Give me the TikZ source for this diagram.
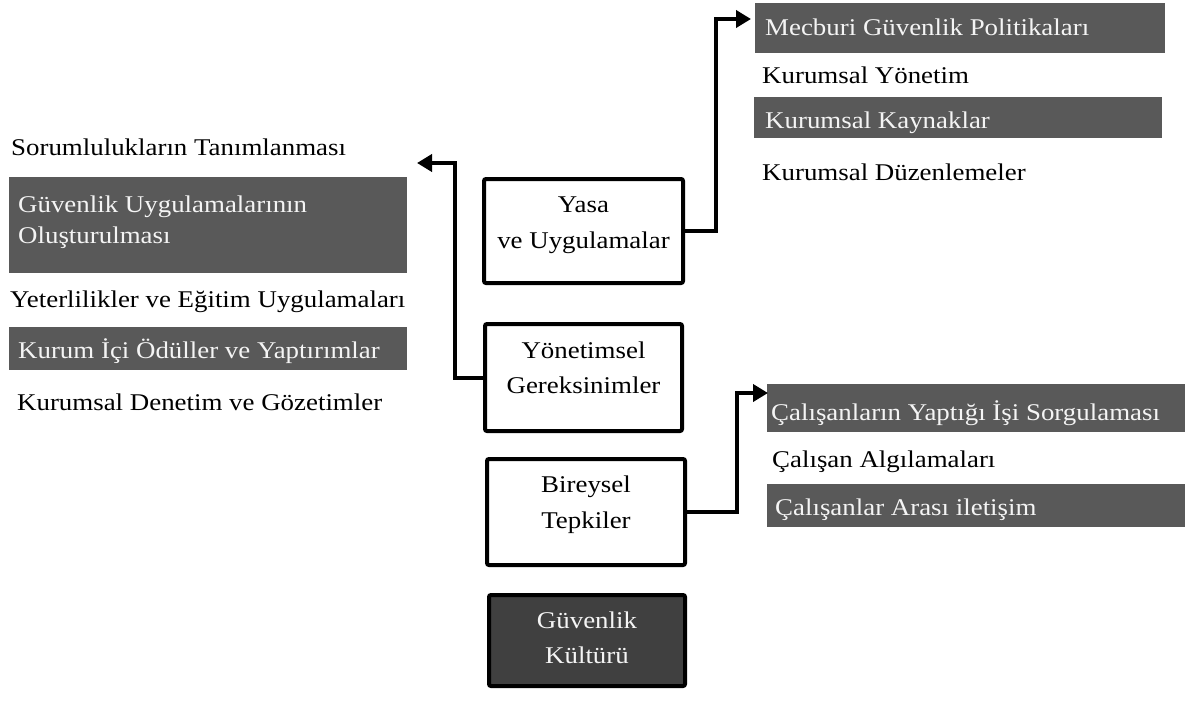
\documentclass[tikz,border=0pt]{standalone}
\usepackage{fontspec}
\setmainfont{Liberation Serif}[FakeStretch=1.12]
\usetikzlibrary{arrows.meta}
\definecolor{bargray}{HTML}{595959}
\definecolor{darkfill}{HTML}{404040}
\definecolor{lighttext}{HTML}{F4F4F4}
% two centred / left-aligned lines whose baseline is that of the first line
\newcommand{\pairc}[3]{{\fontsize{24}{#3}\selectfont\begin{tabular}[t]{@{}c@{}}#1\\#2\end{tabular}}}
\newcommand{\pairl}[3]{{\fontsize{24}{#3}\selectfont\begin{tabular}[t]{@{}l@{}}#1\\#2\end{tabular}}}
\tikzset{
  frame/.style={draw=black, line width=4pt, rounded corners=2pt, fill=white, inner sep=0pt},
  darkframe/.style={frame, fill=darkfill},
  listbar/.style={fill=bargray, draw=none, inner sep=0pt, anchor=north west},
  itemtext/.style={font=\fontsize{24}{29}\selectfont, inner sep=0pt, anchor=base west},
  bartext/.style={itemtext, text=lighttext},
  boxtext/.style={inner sep=0pt, anchor=base},
  conn/.style={line width=4pt, -{Triangle[length=15pt,width=17pt]}}
}
\begin{document}
\begin{tikzpicture}[x=1pt, y=-1pt]
\useasboundingbox (0,0) rectangle (1193,704);

% central column of boxes
\node[frame, minimum width=199pt, minimum height=104pt] (yasa) at (583.5,231) {};
\node[boxtext] (yasaT) at (583.5,212) {\pairc{Yasa}{ve Uygulamalar}{36}};

\node[frame, minimum width=197pt, minimum height=107pt] (yon) at (583.5,377.5) {};
\node[boxtext] (yonT) at (583.5,358) {\pairc{Yönetimsel}{Gereksinimler}{35}};

\node[frame, minimum width=198pt, minimum height=106pt] (bir) at (586,512) {};
\node[boxtext] (birT) at (586,492) {\pairc{Bireysel}{Tepkiler}{36}};

\node[darkframe, minimum width=196pt, minimum height=91pt] (kult) at (587,640.5) {};
\node[boxtext, text=lighttext] (kultT) at (587,628) {\pairc{Güvenlik}{Kültürü}{35}};

% upper right list
\node[listbar, minimum width=410pt, minimum height=50pt] (mecb) at (755,3) {};
\node[bartext] (mecbT) at (765,35) {Mecburi Güvenlik Politikaları};
\node[itemtext] (yonetim) at (762,83) {Kurumsal Yönetim};
\node[listbar, minimum width=408pt, minimum height=41pt] (kayn) at (754,97) {};
\node[bartext] (kaynT) at (765,128) {Kurumsal Kaynaklar};
\node[itemtext] (duzen) at (762,180) {Kurumsal Düzenlemeler};

% left list
\node[itemtext] (sorum) at (11,155) {Sorumlulukların Tanımlanması};
\node[listbar, minimum width=398pt, minimum height=96pt] (guv) at (9,177) {};
\node[boxtext, anchor=base west, text=lighttext] (guvT) at (18,212) {\pairl{Güvenlik Uygulamalarının}{Oluşturulması}{31}};
\node[itemtext] (yeter) at (10,307) {Yeterlilikler ve Eğitim Uygulamaları};
\node[listbar, minimum width=398pt, minimum height=43pt] (odul) at (9,327) {};
\node[bartext] (odulT) at (18,358) {Kurum İçi Ödüller ve Yaptırımlar};
\node[itemtext] (denet) at (17,410) {Kurumsal Denetim ve Gözetimler};

% lower right list
\node[listbar, minimum width=418pt, minimum height=48pt] (sorg) at (767,384) {};
\node[bartext] (sorgT) at (771,420) {Çalışanların Yaptığı İşi Sorgulaması};
\node[itemtext] (algi) at (772,467) {Çalışan Algılamaları};
\node[listbar, minimum width=418pt, minimum height=43pt] (iletis) at (767,484) {};
\node[bartext] (iletisT) at (775,515) {Çalışanlar Arası iletişim};

% arrow end points beside the first item of each list
\coordinate (tipA) at (751,19);
\coordinate (tipB) at (417,163);
\coordinate (tipC) at (768,393);

% connectors
\draw[conn] (yasa.east) -| (716,19) -- (tipA);
\draw[conn] (yon.west) -| (455,163) -- (tipB);
\draw[conn] (bir.east) -| (737,393) -- (tipC);
\end{tikzpicture}
\end{document}
